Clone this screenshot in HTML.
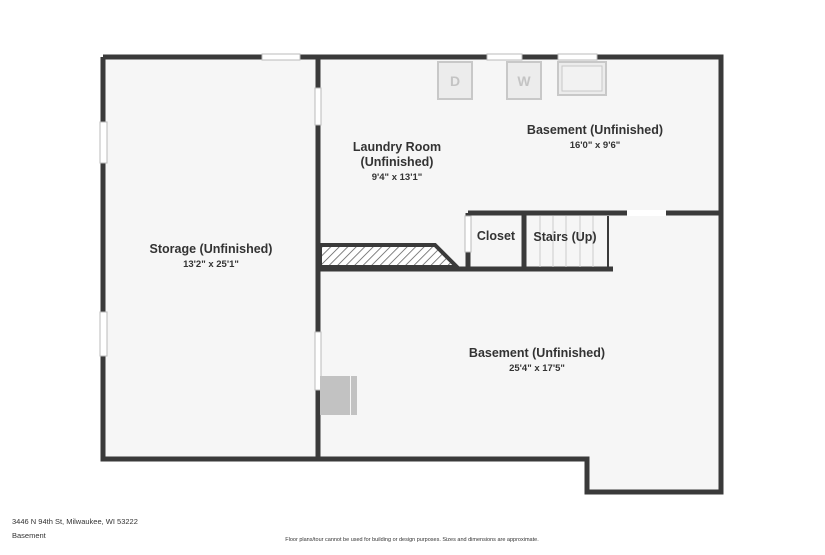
<!DOCTYPE html>
<html><head><style>
body{margin:0;background:#fff;width:825px;height:550px;overflow:hidden;font-family:"Liberation Sans",sans-serif}
svg text{font-family:"Liberation Sans",sans-serif;fill:#333}
</style></head><body>
<svg width="825" height="550" xmlns="http://www.w3.org/2000/svg">
<defs><pattern id="h" width="6" height="6" patternUnits="userSpaceOnUse" patternTransform="rotate(45)"><rect width="6" height="6" fill="#fff"/><line x1="0" y1="0" x2="0" y2="6" stroke="#555" stroke-width="1.5"/></pattern></defs>
<polygon points="103,57 721,57 721,492 587,492 587,459 103,459" fill="#f6f6f6"/>
<g fill="none" stroke="#3a3a3a" stroke-width="5">
<polyline points="103,57 721,57 721,492 587,492 587,459 103,459 103,57"/>
<line x1="318" y1="57" x2="318" y2="459"/>
<line x1="468" y1="213" x2="721" y2="213"/>
<line x1="468" y1="213" x2="468" y2="270"/>
<line x1="524" y1="213" x2="524" y2="270"/>
<line x1="318" y1="269" x2="613" y2="269"/>
</g>
<polygon points="320,245 435,245 457,267 320,267" fill="url(#h)" stroke="#3a3a3a" stroke-width="4"/>
<g fill="#fff" stroke="#bbb" stroke-width="1">
<rect x="262" y="54" width="38" height="6"/><rect x="487" y="54" width="35" height="6"/><rect x="558" y="54" width="39" height="6"/>
<rect x="100" y="122" width="7" height="41"/><rect x="100" y="312" width="7" height="44"/>
<rect x="315" y="88" width="6" height="37"/><rect x="315" y="332" width="6" height="58"/>
<rect x="465" y="216" width="6" height="36"/><rect x="627" y="210" width="39" height="6" stroke="none"/>
</g>
<g stroke="#ccc" stroke-width="1">
<line x1="540" y1="216" x2="540" y2="267"/><line x1="553" y1="216" x2="553" y2="267"/><line x1="566" y1="216" x2="566" y2="267"/><line x1="580" y1="216" x2="580" y2="267"/><line x1="593" y1="216" x2="593" y2="267"/>
</g>
<line x1="608" y1="216" x2="608" y2="267" stroke="#3a3a3a" stroke-width="2"/>
<g fill="#ececec" stroke="#c8c8c8" stroke-width="2">
<rect x="438" y="62" width="34" height="37"/><rect x="507" y="62" width="34" height="37"/><rect x="558" y="62" width="48" height="33"/>
</g>
<rect x="562" y="66" width="40" height="25" fill="#f2f2f2" stroke="#c8c8c8"/>
<text x="455" y="86" font-size="14" font-weight="bold" text-anchor="middle" style="fill:#c4c4c4">D</text>
<text x="524" y="86" font-size="14" font-weight="bold" text-anchor="middle" style="fill:#c4c4c4">W</text>
<rect x="320" y="376" width="30" height="39" fill="#c2c2c2"/><rect x="351" y="376" width="6" height="39" fill="#c2c2c2"/>
<g font-weight="bold" text-anchor="middle">
<text x="397" y="151" font-size="12.5">Laundry Room</text>
<text x="397" y="166" font-size="12.5">(Unfinished)</text>
<text x="397" y="180" font-size="9.5">9'4" x 13'1"</text>
<text x="595" y="134" font-size="12.5">Basement (Unfinished)</text>
<text x="595" y="148" font-size="9.5">16'0" x 9'6"</text>
<text x="496" y="240" font-size="12.5">Closet</text>
<text x="565" y="241" font-size="12.5">Stairs (Up)</text>
<text x="211" y="253" font-size="12.5">Storage (Unfinished)</text>
<text x="211" y="267" font-size="9.5">13'2" x 25'1"</text>
<text x="537" y="357" font-size="12.5">Basement (Unfinished)</text>
<text x="537" y="371" font-size="9.5">25'4" x 17'5"</text>
</g>
<text x="12" y="524" font-size="7.5">3446 N 94th St, Milwaukee, WI 53222</text>
<text x="12" y="538" font-size="7.5">Basement</text>
<text x="412" y="541" font-size="5.5" text-anchor="middle">Floor plans/tour cannot be used for building or design purposes. Sizes and dimensions are approximate.</text>
</svg>
</body></html>
